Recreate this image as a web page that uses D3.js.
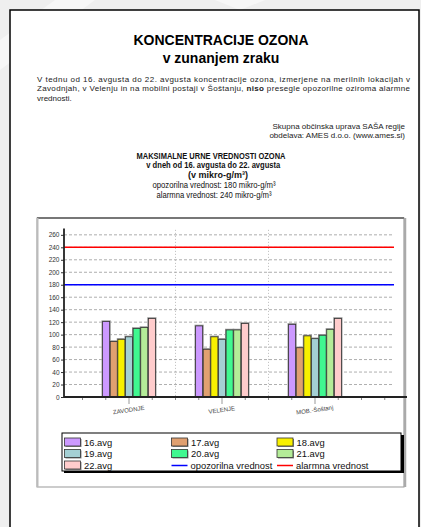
<!DOCTYPE html>
<html><head><meta charset="utf-8">
<script src="https://cdn.jsdelivr.net/npm/d3@7"></script>
<style>html,body{margin:0;padding:0;background:#f0f0f0;} svg{display:block;font-family:"Liberation Sans",Arial,sans-serif;}</style>
</head><body>
<script>
// ---- data ----
const categories = ["ZAVODNJE", "VELENJE", "MOB.-Šoštanj"];
const seriesNames = ["16.avg", "17.avg", "18.avg", "19.avg", "20.avg", "21.avg", "22.avg"];
const seriesColors = ["#cc99ff", "#e0a070", "#f8f000", "#a4d0d4", "#40f890", "#b4ec98", "#ffcccc"];
const zavodnje = [121, 89, 92.5, 96.5, 110, 111.5, 126];
const velenje = [114, 76.5, 96.5, 92.5, 107.5, 107.5, 118];
const mobSostanj = [116.5, 79, 98, 93.5, 99, 108.5, 126];
const yTicks = [0, 20, 40, 60, 80, 100, 120, 140, 160, 180, 200, 220, 240, 260];
const opozorilna = 180;
const alarmna = 240;
const values = [zavodnje, velenje, mobSostanj];

const W = 421, H = 527;
const svg = d3.select("body").append("svg").attr("width", W).attr("height", H);

// background & page
svg.append("rect").attr("width", W).attr("height", H).attr("fill", "#efefef");
svg.append("path").attr("d", "M55,0 L95,0 L0,70 L0,40 Z").attr("fill", "#f7f7f7");
svg.append("path").attr("d", "M215,0 L265,0 L240,10 Z").attr("fill", "#f7f7f7");
svg.append("rect").attr("x", 10).attr("y", 10).attr("width", 409).attr("height", 530)
  .attr("fill", "#fff").attr("stroke", "#000").attr("stroke-width", 1.5);

// header
const cx = 221;
svg.append("text").attr("x", cx).attr("y", 45).attr("text-anchor", "middle")
  .attr("font-size", 14).attr("font-weight", "bold").text("KONCENTRACIJE OZONA");
svg.append("text").attr("x", cx).attr("y", 63).attr("text-anchor", "middle")
  .attr("font-size", 14).attr("font-weight", "bold").text("v zunanjem zraku");

svg.append("text").attr("x", 37).attr("y", 81.5).attr("font-size", 8).attr("fill", "#222")
  .attr("textLength", 373).attr("lengthAdjust", "spacing")
  .text("V tednu od 16. avgusta do 22. avgusta koncentracije ozona, izmerjene na merilnih lokacijah v");
const p2 = svg.append("text").attr("x", 37).attr("y", 91.3).attr("font-size", 8).attr("fill", "#222")
  .attr("textLength", 373).attr("lengthAdjust", "spacing");
p2.append("tspan").text("Zavodnjah, v Velenju in na mobilni postaji v Šoštanju, ");
p2.append("tspan").attr("font-weight", "bold").text("niso");
p2.append("tspan").text(" presegle opozorilne oziroma alarmne");
svg.append("text").attr("x", 37).attr("y", 101).attr("font-size", 8).attr("fill", "#222").text("vrednosti.");

svg.append("text").attr("x", 405).attr("y", 128.5).attr("text-anchor", "end").attr("font-size", 8).attr("fill", "#222")
  .text("Skupna občinska uprava SAŠA regije");
svg.append("text").attr("x", 405).attr("y", 138).attr("text-anchor", "end").attr("font-size", 8).attr("fill", "#222")
  .text("obdelava: AMES d.o.o. (www.ames.si)");

const sub = [
  {t: "MAKSIMALNE URNE VREDNOSTI OZONA", y: 158.5, b: true, x: 211, w: 149, fs: 9.5},
  {t: "v dneh od 16. avgusta do 22. avgusta", y: 168.3, b: true, x: 213.3, w: 134, fs: 9.5},
  {t: "(v mikro-g/m³)", y: 177.5, b: true, x: 218, w: 0, fs: 9},
  {t: "opozorilna vrednost: 180 mikro-g/m³", y: 188, b: false, x: 214, w: 123, fs: 9},
  {t: "alarmna vrednost: 240 mikro-g/m³", y: 197.5, b: false, x: 214, w: 115, fs: 9}
];
sub.forEach(s => {
  const t = svg.append("text").attr("x", s.x).attr("y", s.y).attr("text-anchor", "middle")
    .attr("font-size", s.fs).attr("font-weight", s.b ? "bold" : "normal").attr("fill", "#111").text(s.t);
  if (s.w) t.attr("textLength", s.w).attr("lengthAdjust", "spacingAndGlyphs");
});

// chart frame
svg.append("rect").attr("x", 37).attr("y", 218).attr("width", 367).attr("height", 269)
  .attr("fill", "#fff").attr("stroke", "#999").attr("stroke-width", 1);
svg.append("line").attr("x1", 37).attr("x2", 404).attr("y1", 218).attr("y2", 218).attr("stroke", "#222").attr("stroke-width", 1);
svg.append("line").attr("x1", 37.5).attr("x2", 37.5).attr("y1", 218).attr("y2", 487).attr("stroke", "#bbb").attr("stroke-width", 2);
svg.append("line").attr("x1", 405).attr("x2", 405).attr("y1", 218).attr("y2", 487).attr("stroke", "#aaa").attr("stroke-width", 2.5);

// scales
const plotL = 64, plotR = 394, axisR = 407;
const y = d3.scaleLinear().domain([0, 270]).range([397, 228.6]);
const x0 = d3.scaleBand().domain(categories).range([82.5, 361.5]).padding(0);
const bw = x0.bandwidth();
const x1 = d3.scaleBand().domain(seriesNames).range([bw * 0.213, bw * 0.787]).padding(0);

// horizontal grid
svg.append("g").selectAll("line").data(yTicks.filter(v => v > 0)).join("line")
  .attr("x1", plotL).attr("x2", plotR).attr("y1", d => y(d)).attr("y2", d => y(d))
  .attr("stroke", "#999").attr("stroke-width", 0.8).attr("stroke-dasharray", "3,2");
// vertical grid at band boundaries
svg.append("g").selectAll("line").data(categories.slice(1)).join("line")
  .attr("x1", d => x0(d)).attr("x2", d => x0(d)).attr("y1", y(268)).attr("y2", y(0))
  .attr("stroke", "#aaa").attr("stroke-width", 0.8).attr("stroke-dasharray", "1,2");

// threshold lines
svg.append("line").attr("x1", plotL).attr("x2", plotR).attr("y1", y(alarmna)).attr("y2", y(alarmna))
  .attr("stroke", "#ff0000").attr("stroke-width", 1.5);
svg.append("line").attr("x1", plotL).attr("x2", plotR).attr("y1", y(opozorilna)).attr("y2", y(opozorilna))
  .attr("stroke", "#0000ff").attr("stroke-width", 1.5);

// bars
const groups = svg.append("g").selectAll("g").data(categories).join("g")
  .attr("transform", d => `translate(${x0(d)},0)`);
groups.each(function(cat, ci) {
  const g = d3.select(this);
  const data = seriesNames.map((s, si) => ({s, si, v: values[ci][si]}));
  g.selectAll("rect.sh").data(data).join("rect").attr("class", "sh")
    .attr("x", d => x1(d.s) - 0.8).attr("y", d => y(d.v) - 1.2)
    .attr("width", x1.bandwidth() + 1.6).attr("height", d => y(0) - y(d.v) + 1.2)
    .attr("fill", "#9a9a9a");
  g.selectAll("rect.b").data(data).join("rect").attr("class", "b")
    .attr("x", d => x1(d.s) + 0.3).attr("y", d => y(d.v))
    .attr("width", x1.bandwidth() - 0.6).attr("height", d => y(0) - y(d.v))
    .attr("fill", d => seriesColors[d.si]).attr("stroke", "#333").attr("stroke-width", 0.8);
});

// y axis
const yAxis = svg.append("g").attr("transform", `translate(${plotL},0)`)
  .call(d3.axisLeft(y).tickValues(yTicks).tickSize(3).tickPadding(1.5));
yAxis.select(".domain").remove();
yAxis.selectAll(".tick line").attr("stroke", "#333");
yAxis.selectAll(".tick text").attr("font-size", 6.5).attr("fill", "#333").attr("font-family", "Liberation Sans, Arial");
svg.append("line").attr("x1", plotL).attr("x2", plotL).attr("y1", y(270)).attr("y2", y(0) + 0.5)
  .attr("stroke", "#222").attr("stroke-width", 1.8);

// x axis ticks
const tickPos = [];
categories.forEach(c => { for (let k = 0; k < 4; k++) tickPos.push({x: x0(c) + k * bw / 4, major: k === 2}); });
tickPos.push({x: x0(categories[2]) + bw, major: false});
tickPos.push({x: x0(categories[2]) + bw * 1.25, major: false});
svg.append("g").selectAll("line").data(tickPos).join("line")
  .attr("x1", d => d.x).attr("x2", d => d.x).attr("y1", y(0)).attr("y2", d => d.major ? y(0) + 7 : y(0) + 3)
  .attr("stroke", d => d.major ? "#aaa" : "#555").attr("stroke-width", d => d.major ? 1.2 : 0.7);
svg.append("line").attr("x1", plotL).attr("x2", axisR).attr("y1", y(0)).attr("y2", y(0))
  .attr("stroke", "#222").attr("stroke-width", 1.8);

// x labels (slightly rotated)
svg.append("g").selectAll("text").data(categories).join("text")
  .attr("transform", d => `translate(${x0(d) + bw / 2},${y(0) + 15}) rotate(-8)`)
  .attr("text-anchor", "middle").attr("font-size", 6).attr("fill", "#444").text(d => d);

// legend
const lg = svg.append("g");
lg.append("rect").attr("x", 64).attr("y", 435).attr("width", 340).attr("height", 38).attr("fill", "#000");
lg.append("rect").attr("x", 62).attr("y", 433).attr("width", 339).attr("height", 38)
  .attr("fill", "#fff").attr("stroke", "#000").attr("stroke-width", 1);
const colX = [64.5, 171.5, 277];
const rowY = [442.5, 454, 465.5];
const items = seriesNames.map((s, i) => ({label: s, type: "box", color: seriesColors[i]}))
  .concat([{label: "opozorilna vrednost", type: "line", color: "#0000ff"},
           {label: "alarmna vrednost", type: "line", color: "#ff0000"}]);
items.forEach((it, i) => {
  const c = i % 3, r = Math.floor(i / 3);
  const xx = colX[c], yy = rowY[r];
  if (it.type === "box") {
    lg.append("rect").attr("x", xx + 1).attr("y", yy - 3.5).attr("width", 16).attr("height", 8).attr("fill", "#888");
    lg.append("rect").attr("x", xx).attr("y", yy - 4.5).attr("width", 16).attr("height", 8)
      .attr("fill", it.color).attr("stroke", "#333").attr("stroke-width", 0.8);
  } else {
    lg.append("line").attr("x1", xx).attr("x2", xx + 16).attr("y1", yy).attr("y2", yy)
      .attr("stroke", it.color).attr("stroke-width", 1.5);
  }
  lg.append("text").attr("x", xx + (it.type === "box" ? 19.5 : 19)).attr("y", yy + 3.3)
    .attr("font-size", 9.4).attr("fill", "#111").text(it.label);
});
</script>
</body></html>
